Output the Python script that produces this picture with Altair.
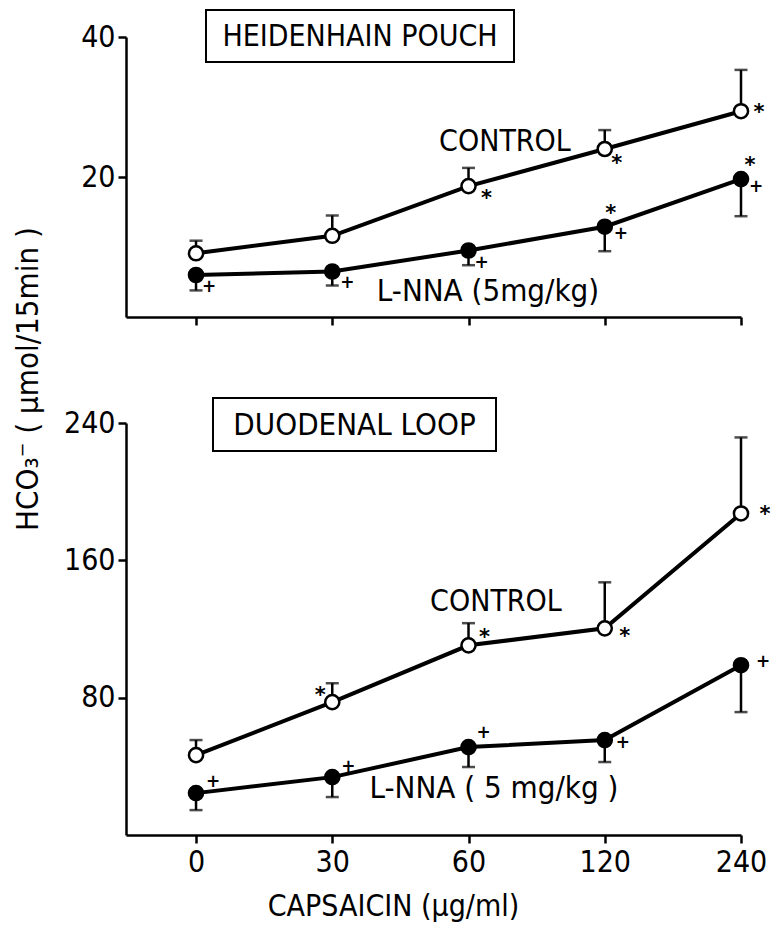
import altair as alt
import pandas as pd

FONT = "Liberation Sans Narrow, DejaVu Sans Condensed, Liberation Sans, sans-serif"

doses = ["0", "30", "60", "120", "240"]

# Heidenhain pouch (µmol/15 min)
hp_control = [9.1, 11.6, 18.7, 24.0, 29.4]
hp_control_sem = [1.8, 2.9, 2.6, 2.7, 5.9]
hp_lnna = [6.0, 6.5, 9.5, 12.9, 19.7]
hp_lnna_sem = [2.2, 2.0, 2.1, 3.5, 5.3]

# Duodenal loop (µmol/15 min)
dl_control = [46.5, 77.4, 110.5, 120.4, 187.3]
dl_control_sem = [8.8, 11.0, 12.9, 26.8, 44.3]
dl_lnna = [24.4, 33.7, 51.2, 55.3, 98.9]
dl_lnna_sem = [9.9, 11.6, 11.6, 12.8, 27.3]

# significance marks: dose, value, symbol
hp_mark_dose = ["60", "120", "240", "0", "30", "60", "120", "120", "240", "240"]
hp_mark_value = [17.7, 22.7, 30.0, 4.3, 4.9, 7.7, 15.6, 11.8, 22.4, 18.6]
hp_mark_symbol = ["*", "*", "*", "+", "+", "+", "*", "+", "*", "+"]
hp_mark_dx = [18, 12, 18, 13, 15, 13, 6, 16, 9, 15]

dl_mark_dose = ["30", "60", "120", "240", "0", "30", "60", "120", "240"]
dl_mark_value = [84.4, 118.0, 119.0, 190.0, 30.8, 39.6, 59.3, 53.5, 100.6]
dl_mark_symbol = ["*", "*", "*", "*", "+", "+", "+", "+", "+"]
dl_mark_dx = [-12, 16, 20, 24, 17, 16, 15, 18, 22]

W = 615
H_TOP = 280
H_BOT = 412


def panel_df(ctrl, ctrl_sem, lnna, lnna_sem):
    rows = []
    for d, v, s in zip(doses, ctrl, ctrl_sem):
        rows.append({"dose": d, "series": "CONTROL", "value": v, "err": v + s})
    for d, v, s in zip(doses, lnna, lnna_sem):
        rows.append({"dose": d, "series": "L-NNA", "value": v, "err": v - s})
    return pd.DataFrame(rows)


def make_panel(df, ymax, yticks, height, show_x_labels, box_text, box_geom, box_font,
               ctrl_label, ctrl_pos, lnna_label, lnna_pos,
               mark_dose, mark_value, mark_symbol, mark_dx, ytitle=None):
    if show_x_labels:
        x_axis = alt.Axis(
            title="CAPSAICIN (µg/ml)",
            titleX=267, titleY=71, titleAlign="center", titleBaseline="middle",
            titleFontSize=30, titleFontWeight="normal",
        )
    else:
        x_axis = alt.Axis(title=None, labels=False)
    x = alt.X("dose:O", sort=doses,
              scale=alt.Scale(type="point", padding=0.257, align=1),
              axis=x_axis)
    y = alt.Y("value:Q", scale=alt.Scale(domain=[0, ymax], nice=False, zero=True),
              axis=alt.Axis(title=None, values=yticks))
    base = alt.Chart(df)
    rules = base.mark_rule(strokeWidth=2.5, color="black").encode(
        x=x, y=y, y2="err:Q")
    caps = base.mark_tick(orient="horizontal", size=13, thickness=2.5, color="black").encode(
        x=x, y=alt.Y("err:Q"))
    line = base.mark_line(strokeWidth=4, color="black").encode(
        x=x, y=y, detail="series:N")
    pts = base.mark_point(shape="circle", size=200, strokeWidth=2.5, opacity=1,
                          filled=False, stroke="black").encode(
        x=x, y=y,
        fill=alt.Fill("series:N", scale=alt.Scale(domain=["CONTROL", "L-NNA"],
                                                  range=["white", "black"]),
                      legend=None))
    layers = [rules, caps, line, pts]

    for d, v, s, dx in zip(mark_dose, mark_value, mark_symbol, mark_dx):
        mdf = pd.DataFrame({"dose": [d], "value": [v], "sym": [s]})
        layers.append(
            alt.Chart(mdf).mark_text(
                font="DejaVu Sans", fontSize=21 if s == "*" else 17,
                fontWeight="bold", dx=dx, dy=6 if s == "*" else 0,
                baseline="middle", align="center", color="black",
            ).encode(x=x, y=alt.Y("value:Q"), text="sym:N"))

    bx0, bx1, by0, by1 = box_geom
    ann = pd.DataFrame({"a": [0]})
    layers.append(alt.Chart(ann).mark_rect(fill="white", stroke="black", strokeWidth=2).encode(
        x=alt.value(bx0), x2=alt.value(bx1), y=alt.value(by0), y2=alt.value(by1)))
    layers.append(alt.Chart(ann).mark_text(font=FONT, fontSize=box_font, color="black",
                                           align="center", baseline="middle").encode(
        x=alt.value((bx0 + bx1) / 2), y=alt.value((by0 + by1) / 2 + 1),
        text=alt.value(box_text)))
    layers.append(alt.Chart(ann).mark_text(font=FONT, fontSize=30, color="black",
                                           align="center", baseline="middle").encode(
        x=alt.value(ctrl_pos[0]), y=alt.value(ctrl_pos[1]), text=alt.value(ctrl_label)))
    layers.append(alt.Chart(ann).mark_text(font=FONT, fontSize=31, color="black",
                                           align="center", baseline="middle").encode(
        x=alt.value(lnna_pos[0]), y=alt.value(lnna_pos[1]), text=alt.value(lnna_label)))
    if ytitle is not None:
        layers.append(alt.Chart(ann).mark_text(font=FONT, fontSize=31, color="black",
                                               align="center", baseline="middle",
                                               angle=270).encode(
            x=alt.value(-97), y=alt.value(342), text=alt.value(ytitle)))
    return alt.layer(*layers).properties(width=W, height=height)


top = make_panel(
    panel_df(hp_control, hp_control_sem, hp_lnna, hp_lnna_sem),
    40, [20, 40], H_TOP, False, "HEIDENHAIN POUCH", (80, 388, -27, 25), 30,
    "CONTROL", (379, 105), "L-NNA (5mg/kg)", (362, 255),
    hp_mark_dose, hp_mark_value, hp_mark_symbol, hp_mark_dx,
    ytitle="HCO₃⁻ ( µmol/15min )")

bottom = make_panel(
    panel_df(dl_control, dl_control_sem, dl_lnna, dl_lnna_sem),
    240, [80, 160, 240], H_BOT, True, "DUODENAL LOOP", (87, 370, -25, 28), 31,
    "CONTROL", (370, 179), "L-NNA ( 5 mg/kg )", (368, 366),
    dl_mark_dose, dl_mark_value, dl_mark_symbol, dl_mark_dx)

chart = alt.vconcat(top, bottom, spacing=106, bounds="flush").properties(
    padding={"left": 13, "top": 9, "right": 2, "bottom": 2}
).configure_view(stroke=None).configure_axis(
    domainColor="black", domainWidth=2.5, tickColor="black", tickWidth=2.5,
    tickSize=8, labelFont=FONT, labelFontSize=30, labelColor="black",
    labelPadding=3, grid=False, titleFont=FONT, titleColor="black",
).configure_axisX(labelPadding=4, labelAngle=0)

chart.save("out.html", embed_options={"renderer": "svg", "actions": False})
